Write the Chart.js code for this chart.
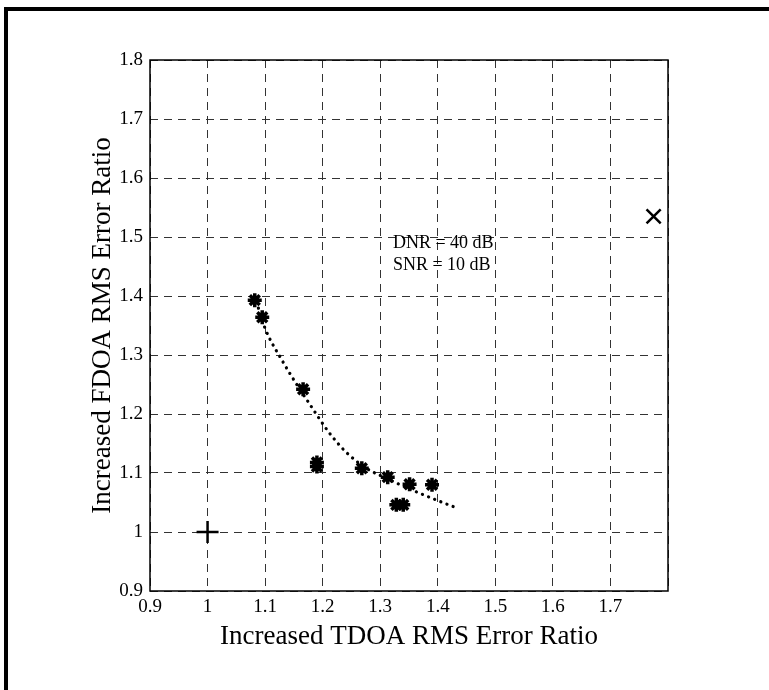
<!DOCTYPE html>
<html>
<head>
<meta charset="utf-8">
<script src="https://cdn.jsdelivr.net/npm/chart.js@4"></script>
<style>
  body { margin: 0; background: #fff; }
  #wrap { position: relative; width: 769px; height: 690px; }
  .frame { position: absolute; background: #000; }
</style>
</head>
<body>
<div id="wrap">
  <canvas id="chart" width="769" height="690"></canvas>
  <div class="frame" style="left:4px; top:7px; width:4px; height:683px;"></div>
  <div class="frame" style="left:4px; top:7px; width:765px; height:4px;"></div>
</div>
<script>
// measured points (asterisks)
const starX = [1.082, 1.095, 1.166, 1.19, 1.19, 1.268, 1.313, 1.351, 1.39, 1.328, 1.34];
const starY = [1.393, 1.364, 1.242, 1.118, 1.111, 1.108, 1.093, 1.081, 1.08, 1.046, 1.046];

// dotted fit curve
const fitX = [1.085, 1.1, 1.13, 1.155, 1.18, 1.21, 1.24, 1.276, 1.311, 1.351, 1.398, 1.435];
const fitY = [1.39, 1.345, 1.29, 1.25, 1.213, 1.17, 1.136, 1.108, 1.091, 1.073, 1.054, 1.04];

// reference markers
const plusPt = [1.0, 1.0];
const crossPt = [1.775, 1.535];

const xTicks = [0.9, 1.0, 1.1, 1.2, 1.3, 1.4, 1.5, 1.6, 1.7, 1.8];
const yTicks = [0.9, 1.0, 1.1, 1.2, 1.3, 1.4, 1.5, 1.6, 1.7, 1.8];

const noteLines = ['DNR = 40 dB', 'SNR = 10 dB'];
const noteX = 1.322;
const noteY = [1.49, 1.452];

const serif = '"Liberation Serif", "Times New Roman", serif';

const zip = (xs, ys) => xs.map((v, i) => ({ x: v, y: ys[i] }));
const fmt = v => String(+v.toFixed(1));

const boxAndText = {
  id: 'boxAndText',
  afterDraw(chart) {
    const { ctx, chartArea: a, scales: { x, y } } = chart;
    ctx.save();
    ctx.strokeStyle = '#000';
    ctx.lineWidth = 1.5;
    ctx.strokeRect(a.left, a.top, a.right - a.left, a.bottom - a.top);
    ctx.font = '18px ' + serif;
    ctx.fillStyle = '#000';
    ctx.textBaseline = 'middle';
    noteLines.forEach((t, i) => {
      ctx.fillText(t, x.getPixelForValue(noteX), y.getPixelForValue(noteY[i]));
    });
    ctx.restore();
  }
};

new Chart(document.getElementById('chart').getContext('2d'), {
  type: 'scatter',
  data: {
    datasets: [
      {
        label: 'fit',
        data: zip(fitX, fitY),
        showLine: true,
        pointRadius: 0,
        borderColor: '#000',
        borderWidth: 3.2,
        borderDash: [0.1, 6.5],
        borderCapStyle: 'round',
        cubicInterpolationMode: 'monotone'
      },
      {
        label: 'measured',
        data: zip(starX, starY),
        pointStyle: 'star',
        pointRadius: 7,
        borderWidth: 3.5,
        borderColor: '#000',
        backgroundColor: '#000'
      },
      {
        label: 'origin',
        data: [{ x: plusPt[0], y: plusPt[1] }],
        pointStyle: 'cross',
        pointRadius: 11,
        borderWidth: 2.5,
        borderColor: '#000'
      },
      {
        label: 'other',
        data: [{ x: crossPt[0], y: crossPt[1] }],
        pointStyle: 'crossRot',
        pointRadius: 10,
        borderWidth: 2.5,
        borderColor: '#000'
      }
    ]
  },
  options: {
    responsive: false,
    animation: false,
    devicePixelRatio: 1,
    layout: { padding: { left: 0, right: 101, top: 60, bottom: 0 } },
    plugins: { legend: { display: false }, tooltip: { enabled: false } },
    scales: {
      x: {
        type: 'linear',
        min: 0.9,
        max: 1.8,
        afterFit: s => { s.height = 99; },
        afterBuildTicks: s => { s.ticks = xTicks.map(v => ({ value: v })); },
        grid: { color: '#333', lineWidth: 1, drawTicks: false },
        border: { display: false, dash: [8, 6] },
        ticks: {
          padding: 5,
          autoSkip: false,
          maxRotation: 0,
          color: '#000',
          font: { family: serif, size: 19 },
          callback: v => (v >= 1.75 ? '' : fmt(v))
        },
        title: {
          display: true,
          text: 'Increased TDOA RMS Error Ratio',
          color: '#000',
          font: { family: serif, size: 27 },
          padding: { top: 0, bottom: 37 }
        }
      },
      y: {
        type: 'linear',
        min: 0.9,
        max: 1.8,
        afterFit: s => { s.width = 150; },
        afterBuildTicks: s => { s.ticks = yTicks.map(v => ({ value: v })); },
        grid: { color: '#333', lineWidth: 1, drawTicks: false },
        border: { display: false, dash: [8, 6] },
        ticks: {
          padding: 7,
          autoSkip: false,
          color: '#000',
          font: { family: serif, size: 19 },
          callback: v => fmt(v)
        },
        title: {
          display: true,
          text: 'Increased FDOA RMS Error Ratio',
          color: '#000',
          font: { family: serif, size: 27 },
          padding: { top: 87, bottom: 0 }
        }
      }
    }
  },
  plugins: [boxAndText]
});
</script>
</body>
</html>
